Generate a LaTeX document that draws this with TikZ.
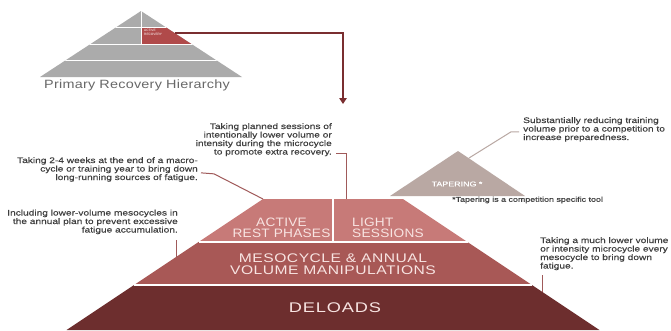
\documentclass[tikz,border=0pt]{standalone}
\usepackage{fontspec}
\setmainfont{Liberation Sans}
\newfontfamily\annfont[FakeStretch=1.27,FakeBold=0.25]{Liberation Sans}
\newfontfamily\pyrfont[FakeStretch=1.25,LetterSpace=4]{Liberation Sans}
\newfontfamily\topfont[FakeStretch=1.12,LetterSpace=2]{Liberation Sans}
\newfontfamily\delfont[FakeStretch=1.3,LetterSpace=6]{Liberation Sans}
\newfontfamily\ttlfont[FakeStretch=1.2,LetterSpace=2]{Liberation Sans}
\usetikzlibrary{arrows.meta}
\definecolor{spgray}{HTML}{ABABAB}
\definecolor{sred}{HTML}{B04A4A}
\definecolor{maroon}{HTML}{7A2E30}
\definecolor{layA}{HTML}{C77A78}
\definecolor{layB}{HTML}{A85856}
\definecolor{layC}{HTML}{6D2E2E}
\definecolor{conncol}{HTML}{A05A5A}
\definecolor{taper}{HTML}{B9A8A3}
\definecolor{anncol}{HTML}{3E3E3E}
\definecolor{pyrtxt}{HTML}{F8E4E2}
\definecolor{ttlcol}{HTML}{686868}
\begin{document}
\begin{tikzpicture}[x=1pt,y=-1pt,
  ann/.style={font=\annfont\fontsize{8}{8.5}\selectfont, text=anncol, inner sep=0pt},
  conn/.style={draw=conncol, line width=1pt},
  pyrtext/.style={font=\pyrfont\fontsize{12.5}{12}\selectfont, text=pyrtxt, inner sep=0pt},
  toptext/.style={font=\topfont\fontsize{12.2}{11.5}\selectfont, text=pyrtxt, inner sep=0pt},
  gapline/.style={draw=white, line width=1.8pt}]
\useasboundingbox (0,0) rectangle (671,330);
\fill[white] (0,0) rectangle (671,330);

% ---------- small pyramid ----------
\coordinate (sA) at (141,11);
\coordinate (sL) at (40,77);
\coordinate (sR) at (242,77);
\fill[spgray] (sA) -- (sR) -- (sL) -- cycle;
\fill[sred] (141,27) -- (165.4,27) -- (191.3,44) -- (141,44) -- cycle;
\begin{scope}
  \clip (sA) -- (sR) -- (sL) -- cycle;
  \draw[white, line width=1pt] (30,27) -- (250,27) (30,44) -- (250,44) (30,60) -- (250,60);
  \draw[white, line width=1pt] (141,5) -- (141,44);
\end{scope}
\node[font=\fontsize{3.2}{3.6}\selectfont, text=white, anchor=north west, inner sep=0pt, align=left] (recov) at (144,29.5) {ACTIVE\\RECOVERY};
\node[font=\ttlfont\fontsize{12}{12}\selectfont, text=ttlcol, inner sep=0pt] (ptitle) at (137,85) {Primary Recovery Hierarchy};
\coordinate (redR) at (175,33);
\coordinate (arrEnd) at (343,104);
\draw[maroon, line width=1.2pt, -{Triangle[width=7.5pt,length=6pt]}] (redR) -- (343,33) -- (arrEnd);

% ---------- main pyramid ----------
\coordinate (t1L) at (263,199);   \coordinate (t1R) at (403,199);
\coordinate (t2L) at (198.5,242); \coordinate (t2R) at (467.5,242);
\coordinate (t3L) at (134,285);   \coordinate (t3R) at (532,285);
\coordinate (t4L) at (66.5,330);  \coordinate (t4R) at (599.5,330);
\fill[layA] (t1L) -- (t1R) -- (t2R) -- (t2L) -- cycle;
\fill[layB] (t2L) -- (t2R) -- (t3R) -- (t3L) -- cycle;
\fill[layC] (t3L) -- (t3R) -- (t4R) -- (t4L) -- cycle;
\draw[gapline] (t2L) -- (t2R);
\draw[gapline] (t3L) -- (t3R);
\draw[gapline] (333,199) -- (333,242);

\node[toptext, align=center] (active) at (281.5,228) {ACTIVE\\REST PHASES};
\node[toptext, align=left, anchor=west] (light) at (352,228) {LIGHT\\SESSIONS};
\node[pyrtext, align=center] (meso) at (333,264.5) {MESOCYCLE \& ANNUAL\\VOLUME MANIPULATIONS};
\node[pyrtext, font=\delfont\fontsize{14}{14}\selectfont] (deload) at (335,308) {DELOADS};

% ---------- tapering ----------
\coordinate (tpA) at (458,151);
\coordinate (tpR) at (525,196);
\coordinate (tpL) at (390,196);
\fill[taper] (tpA) -- (tpR) -- (tpL) -- cycle;
\node[font=\annfont\fontsize{7}{7}\selectfont, text=white, inner sep=0pt] (taptxt) at (457,184) {TAPERING *};
\node[ann, font=\annfont\fontsize{7}{7}\selectfont, anchor=west] (foot) at (452,200) {*Tapering is a competition specific tool};

% ---------- annotations ----------
\node[ann, align=right, anchor=north east] (a1) at (332,123) {Taking planned sessions of\\intentionally lower volume or\\intensity during the microcycle\\to promote extra recovery.};
\node[ann, align=right, anchor=north east] (a2) at (198,157) {Taking 2-4 weeks at the end of a macro-\\cycle or training year to bring down\\long-running sources of fatigue.};
\node[ann, align=right, anchor=north east] (a3) at (178,209.5) {Including lower-volume mesocycles in\\the annual plan to prevent excessive\\fatigue accumulation.};
\node[ann, align=left, anchor=north west] (a4) at (540,237) {Taking a much lower volume\\or intensity microcycle every\\mesocycle to bring down\\fatigue.};
\node[ann, align=left, anchor=north west] (a5) at (523,117) {Substantially reducing training\\volume prior to a competition to\\increase preparedness.};

\coordinate (c1e) at (346,199);
\coordinate (c2e) at (263,199);
\coordinate (c3e) at (176,257);
\coordinate (c4e) at (542,291.5);
\coordinate (c5e) at (469,158);
\draw[conn] ([xshift=4pt,yshift=3pt]a1.south east) -- ++(10,0) coordinate (c1m) -- (c1m |- c1e);
\draw[conn] ([xshift=3pt,yshift=9pt]a2.south east) -- ++(13,1) -- (c2e);
\draw[conn] ([xshift=-2pt,yshift=-6pt]a3.south east) -- (c3e);
\draw[conn] ([xshift=2pt,yshift=-5pt]a4.south west) -- (c4e);
\draw[conn, draw=taper] ([xshift=-4pt,yshift=10pt]a5.south west) -- ++(-8,0) -- (c5e);
\end{tikzpicture}
\end{document}
